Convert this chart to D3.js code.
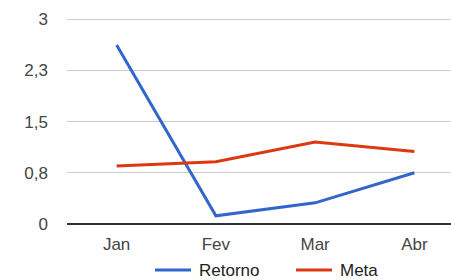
<!DOCTYPE html>
<html>
<head>
<meta charset="utf-8">
<script src="https://cdn.jsdelivr.net/npm/d3@7"></script>
<style>
  body { margin: 0; background: #fff; }
  svg { display: block; font-family: "Liberation Sans", Arial, sans-serif; }
</style>
</head>
<body>
<div id="chart"></div>
<script>
var meses = ["Jan", "Fev", "Mar", "Abr"];
var retorno = [2.62, 0.12, 0.31, 0.75];
var meta = [0.85, 0.91, 1.20, 1.06];
var yTicks = [0, 0.75, 1.5, 2.25, 3];
var series = [
    { name: "Retorno", values: retorno, color: "#3366cc" },
    { name: "Meta", values: meta, color: "#dc3912" }
];

var width = 451, height = 280;
var svg = d3.select("#chart").append("svg")
    .attr("width", width)
    .attr("height", height);

// plot area
var x = d3.scalePoint().domain(meses).range([67, 464]).padding(0.5);
var y = d3.scaleLinear().domain([0, 3]).range([224, 19]);

var fmt = function (d) { return d3.format(".1~f")(d).replace(".", ","); };

// gridlines + y labels
var grid = svg.append("g");
grid.selectAll("line")
    .data(yTicks)
    .enter()
    .append("line")
    .attr("x1", 67).attr("x2", 464)
    .attr("y1", function (d) { return y(d) })
    .attr("y2", function (d) { return y(d) })
    .attr("stroke", function (d) { return d == 0 ? "#333" : "#ccc" })
    .attr("stroke-width", function (d) { return d == 0 ? 1.5 : 1 })
    .attr("shape-rendering", "crispEdges");

grid.selectAll("text")
    .data(yTicks)
    .enter()
    .append("text")
    .attr("x", 48)
    .attr("y", function (d) { return y(d) + 6 })
    .attr("text-anchor", "end")
    .style("font-size", "17px")
    .style("fill", "#444")
    .text(function (d) { return fmt(d) });

// x labels
svg.append("g").selectAll("text")
    .data(meses)
    .enter()
    .append("text")
    .attr("x", function (d) { return x(d) })
    .attr("y", 250)
    .attr("text-anchor", "middle")
    .style("font-size", "17px")
    .style("fill", "#444")
    .text(function (d) { return d });

// lines
var line = d3.line()
    .x(function (d, i) { return x(meses[i]) })
    .y(function (d) { return y(d) });

svg.selectAll("path.serie")
    .data(series)
    .enter()
    .append("path")
    .attr("class", "serie")
    .attr("d", function (d) { return line(d.values) })
    .attr("stroke", function (d) { return d.color })
    .attr("stroke-width", 3)
    .attr("fill", "none");

// legend
var legendX = [155, 296];
var leg = svg.selectAll("g.leg")
    .data(series)
    .enter()
    .append("g")
    .attr("class", "leg")
    .attr("transform", function (d, i) { return "translate(" + legendX[i] + ",270)" });
leg.append("line")
    .attr("x1", 0).attr("x2", 36)
    .attr("stroke", function (d) { return d.color })
    .attr("stroke-width", 3);
leg.append("text")
    .attr("x", 44)
    .attr("y", 6)
    .style("font-size", "17px")
    .style("fill", "#222")
    .text(function (d) { return d.name });
</script>
</body>
</html>
